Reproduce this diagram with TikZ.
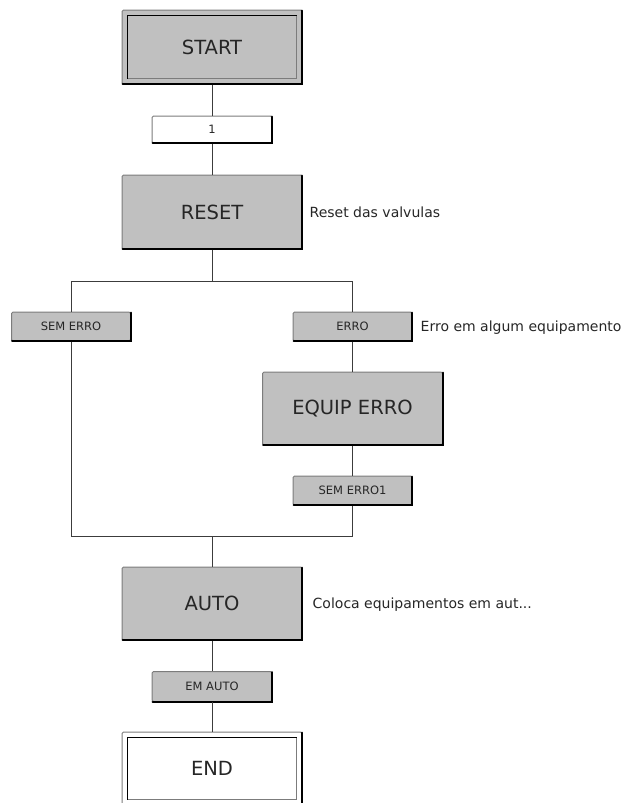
\documentclass[tikz,border=0pt]{standalone}
\usepackage{fontspec}
\setmainfont{DejaVu Sans}
\definecolor{boxgray}{HTML}{C0C0C0}
\definecolor{rimgray}{HTML}{7C7C7C}
\definecolor{inkgray}{HTML}{262626}
\definecolor{wiregray}{HTML}{3C3C3C}
\tikzset{
  box/.style={draw=rimgray, line width=1pt, rounded corners=1.5pt, fill=boxgray,
    inner sep=0pt, text=inkgray},
  bigbox/.style={box, minimum width=180pt, minimum height=73pt,
    font=\fontsize{19.5}{20}\selectfont},
  smallbox/.style={box, minimum width=119pt, minimum height=29pt,
    font=\fontsize{11.5}{12}\selectfont},
  wire/.style={draw=wiregray, line width=1pt},
  rimshadow/.style={draw=black, line width=2pt, line cap=round},
  sunkdark/.style={draw=black, line width=1.5pt},
  sunklight/.style={draw=rimgray, line width=1pt},
  note/.style={anchor=west, inner sep=0pt, text=inkgray, text height=10pt,
    text depth=0pt, font=\fontsize{14}{16}\selectfont},
}
\begin{document}
\begin{tikzpicture}[x=1pt, y=-1pt]
\useasboundingbox (0,0) rectangle (623,803);

% steps and transitions
\node[bigbox, minimum height=74pt] (start) at (212,47) {START};
\node[smallbox, fill=white, minimum width=120pt, minimum height=27pt] (t1) at (212,129.5) {1};
\node[bigbox, minimum height=74pt] (reset) at (212,212) {RESET};
\node[smallbox] (semerro) at (71,326.5) {SEM ERRO};
\node[smallbox] (erro) at (352.5,326.5) {ERRO};
\node[bigbox] (equip) at (352.5,408.5) {EQUIP ERRO};
\node[smallbox] (semerro1) at (352.5,490.5) {SEM ERRO1};
\node[bigbox] (auto) at (212,603.5) {AUTO};
\node[smallbox, minimum width=120pt, minimum height=30pt] (emauto) at (212,686.5) {EM AUTO};
\node[bigbox, fill=white] (finish) at (212,768.5) {END};

% raised look: dark right and bottom edges
\foreach \n in {start,t1,reset,semerro,erro,equip,semerro1,auto,emauto,finish}
  \draw[rimshadow] ([shift={(-0.5pt,-1pt)}]\n.north east) -- ([shift={(-0.5pt,0.5pt)}]\n.south east)
    -- ([shift={(1pt,0.5pt)}]\n.south west);

% sunken inner frame of the initial and final steps
\foreach \n in {start,finish}{
  \draw[sunklight] ([shift={(6pt,6pt)}]\n.south west) -| ([shift={(-6pt,-6pt)}]\n.north east);
  \draw[sunkdark] ([shift={(6pt,6pt)}]\n.south west) |- ([shift={(-6pt,-6pt)}]\n.north east);
}

% comments beside steps and transitions
\node[note] (resetnote) at ([xshift=7pt]reset.east) {Reset das valvulas};
\node[note] (erronote) at ([xshift=8pt]erro.east) {Erro em algum equipamento};
\node[note] (autonote) at ([xshift=10pt]auto.east) {Coloca equipamentos em aut...};

% divergence and convergence points
\coordinate (split) at (212,281);
\coordinate (lsplit) at (semerro.north |- split);
\coordinate (rsplit) at (erro.north |- split);
\coordinate (join) at (212,536);
\coordinate (ljoin) at (semerro.south |- join);
\coordinate (rjoin) at (semerro1.south |- join);

% connectors
\draw[wire] (start.south) -- (t1.north);
\draw[wire] (t1.south) -- (reset.north);
\draw[wire] (reset.south) -- (split);
\draw[wire] (lsplit) -- (rsplit);
\draw[wire] (lsplit) -- (semerro.north);
\draw[wire] (rsplit) -- (erro.north);
\draw[wire] (erro.south) -- (equip.north);
\draw[wire] (equip.south) -- (semerro1.north);
\draw[wire] (semerro.south) -- (ljoin) -- (rjoin) -- (semerro1.south);
\draw[wire] (join) -- (auto.north);
\draw[wire] (auto.south) -- (emauto.north);
\draw[wire] (emauto.south) -- (finish.north);
\end{tikzpicture}
\end{document}
